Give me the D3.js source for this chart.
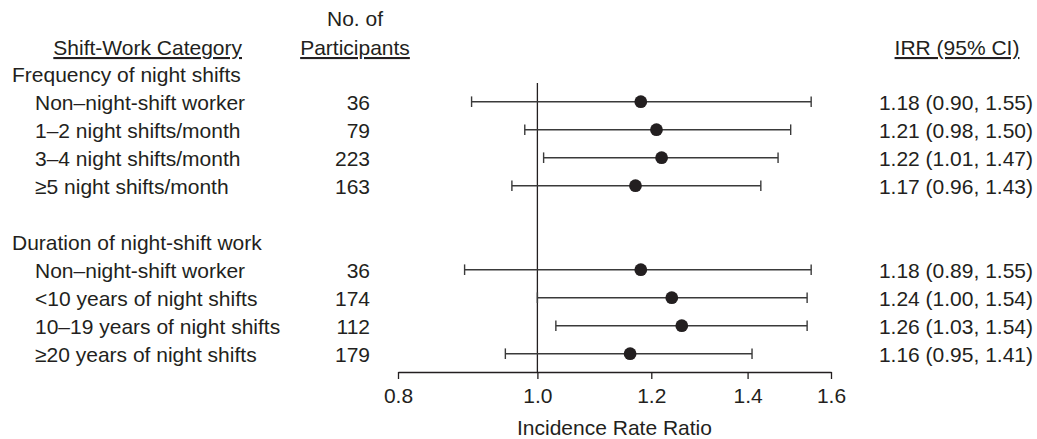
<!DOCTYPE html>
<html>
<head>
<meta charset="utf-8">
<script src="https://cdn.jsdelivr.net/npm/d3@7"></script>
<style>
  html, body { margin: 0; padding: 0; background: #fff; }
  svg { display: block; }
  text { font-family: "Liberation Sans", Arial, sans-serif; fill: #231f20; }
</style>
</head>
<body>
<svg id="chart" width="1037" height="439"></svg>
<script>
const groups = ["Frequency of night shifts", "Duration of night-shift work"];
const categories = [
  "Non–night-shift worker", "1–2 night shifts/month", "3–4 night shifts/month", "≥5 night shifts/month",
  "Non–night-shift worker", "<10 years of night shifts", "10–19 years of night shifts", "≥20 years of night shifts"
];
const groupOf = [0, 0, 0, 0, 1, 1, 1, 1];
const participants = [36, 79, 223, 163, 36, 174, 112, 179];
const irr   = [1.18, 1.21, 1.22, 1.17, 1.18, 1.24, 1.26, 1.16];
const lower = [0.90, 0.98, 1.01, 0.96, 0.89, 1.00, 1.03, 0.95];
const upper = [1.55, 1.50, 1.47, 1.43, 1.55, 1.54, 1.54, 1.41];
const irrLabels = [
  "1.18 (0.90, 1.55)", "1.21 (0.98, 1.50)", "1.22 (1.01, 1.47)", "1.17 (0.96, 1.43)",
  "1.18 (0.89, 1.55)", "1.24 (1.00, 1.54)", "1.26 (1.03, 1.54)", "1.16 (0.95, 1.41)"
];
const tickValues = [0.8, 1.0, 1.2, 1.4, 1.6];
const headers = { category: "Shift-Work Category", n1: "No. of", n2: "Participants", irr: "IRR (95% CI)" };
const axisTitle = "Incidence Rate Ratio";

// Build row list: group header rows + item rows with a blank gap between groups
const rows = [];
groups.forEach((g, gi) => {
  if (gi > 0) rows.push({ type: "blank" });
  rows.push({ type: "group", label: g });
  categories.forEach((c, i) => {
    if (groupOf[i] === gi) rows.push({ type: "item", i });
  });
});
rows.forEach((r, k) => r.k = k);

const svg = d3.select("#chart");
const FS = 21;
const ink = "#231f20";
const TB = 8.5; // text baseline offset from row centre

const x = d3.scaleLog().domain([0.8, 1.6]).range([398, 831]);
const y = d3.scaleLinear().domain([0, rows.length - 1]).range([73.7, 353.7]);

// Column headers
svg.append("text").attr("x", 242).attr("y", 55).attr("text-anchor", "end")
  .attr("font-size", FS).attr("text-decoration", "underline").text(headers.category);
svg.append("text").attr("x", 355).attr("y", 26).attr("text-anchor", "middle")
  .attr("font-size", FS).text(headers.n1);
svg.append("text").attr("x", 355).attr("y", 55).attr("text-anchor", "middle")
  .attr("font-size", FS).attr("text-decoration", "underline").text(headers.n2);
svg.append("text").attr("x", 957).attr("y", 55).attr("text-anchor", "middle")
  .attr("font-size", FS).attr("text-decoration", "underline").text(headers.irr);

// Row texts
const rowG = svg.append("g");
rows.forEach(r => {
  if (r.type === "group") {
    rowG.append("text").attr("x", 12).attr("y", y(r.k) + TB).attr("font-size", FS).text(r.label);
  } else if (r.type === "item") {
    rowG.append("text").attr("x", 35).attr("y", y(r.k) + TB).attr("font-size", FS).text(categories[r.i]);
    rowG.append("text").attr("x", 370).attr("y", y(r.k) + TB).attr("text-anchor", "end")
      .attr("font-size", FS).text(participants[r.i]);
    rowG.append("text").attr("x", 1033).attr("y", y(r.k) + TB).attr("text-anchor", "end")
      .attr("font-size", FS).text(irrLabels[r.i]);
  }
});

// Reference line at 1.0
svg.append("line").attr("x1", x(1)).attr("x2", x(1)).attr("y1", 83).attr("y2", 372)
  .attr("stroke", ink).attr("stroke-width", 1.3);

// Forest marks
const items = rows.filter(r => r.type === "item");
const mk = svg.append("g");
mk.selectAll("line.ci").data(items).join("line").attr("class", "ci")
  .attr("x1", d => x(lower[d.i])).attr("x2", d => x(upper[d.i]))
  .attr("y1", d => y(d.k)).attr("y2", d => y(d.k))
  .attr("stroke", "#3a3a3a").attr("stroke-width", 1.4);
mk.selectAll("line.capl").data(items).join("line").attr("class", "capl")
  .attr("x1", d => x(lower[d.i])).attr("x2", d => x(lower[d.i]))
  .attr("y1", d => y(d.k) - 5.3).attr("y2", d => y(d.k) + 5.3)
  .attr("stroke", "#3a3a3a").attr("stroke-width", 1.4);
mk.selectAll("line.capu").data(items).join("line").attr("class", "capu")
  .attr("x1", d => x(upper[d.i])).attr("x2", d => x(upper[d.i]))
  .attr("y1", d => y(d.k) - 5.3).attr("y2", d => y(d.k) + 5.3)
  .attr("stroke", "#3a3a3a").attr("stroke-width", 1.4);
mk.selectAll("circle").data(items).join("circle")
  .attr("cx", d => x(irr[d.i])).attr("cy", d => y(d.k)).attr("r", 6.4)
  .attr("fill", ink);

// Axis
const axis = d3.axisBottom(x).tickValues(tickValues).tickFormat(d3.format(".1f"))
  .tickSize(7).tickSizeOuter(0).tickPadding(9);
const ax = svg.append("g").attr("transform", "translate(0,372)").call(axis);
ax.select(".domain").attr("stroke", ink).attr("stroke-width", 1.3);
ax.selectAll(".tick line").attr("stroke", ink).attr("stroke-width", 1.3);
ax.selectAll(".tick text").attr("font-size", FS).attr("fill", ink)
  .attr("font-family", "'Liberation Sans', Arial, sans-serif");

svg.append("text").attr("x", (x.range()[0] + x.range()[1]) / 2).attr("y", 435)
  .attr("text-anchor", "middle").attr("font-size", FS).text(axisTitle);
</script>
</body>
</html>
